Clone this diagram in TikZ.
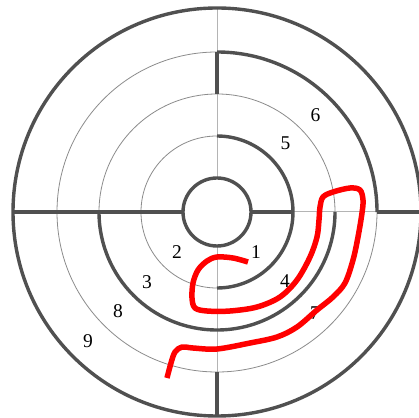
\documentclass[tikz,border=0pt]{standalone}
\usepackage{fontspec}
\setmainfont{Liberation Serif}
\tikzset{
  wall/.style={draw=wallgray, line width=3.4pt},
  thinring/.style={draw=ringgray, line width=0.8pt},
  axisline/.style={draw=axisgray, line width=1pt},
  route/.style={draw=red, line width=5.5pt, line join=round},
  num/.style={font=\fontsize{19.5}{19.5}\selectfont, inner sep=0pt}
}
\definecolor{wallgray}{HTML}{505050}
\definecolor{ringgray}{HTML}{8C8C8C}
\definecolor{axisgray}{HTML}{B4B4B4}
\begin{document}
\begin{tikzpicture}[x=1pt,y=1pt]
\clip (0,0) rectangle (419,417);
\fill[white] (0,0) rectangle (419,417);
\coordinate (c) at (217,205);
% thin axes
\draw[axisline] (217,171) -- (217,1);
\draw[axisline] (217,239) -- (217,409);
\draw[axisline] (251,205) -- (421,205);
\draw[axisline] (183,205) -- (13,205);
% thin rings
\draw[thinring] (c) circle (76);
\draw[thinring] (c) circle (118);
\draw[thinring] (c) circle (160);
% thick walls
\draw[wall] (c) circle (34);
\draw[wall] (c) circle (204);
\draw[wall] (217,281) arc[start angle=90, end angle=-90, radius=76];
\draw[wall] (99,205) arc[start angle=180, end angle=360, radius=118];
\draw[wall] (217,365) arc[start angle=90, end angle=0, radius=160];
\draw[wall] (13,205) -- (183,205);
\draw[wall] (251,205) -- (293,205);
\draw[wall] (377,205) -- (421,205);
\draw[wall] (217,323) -- (217,365);
\draw[wall] (217,45) -- (217,1);
% labels
\node[num] (n1) at (256,164.5) {1};
\node[num] (n2) at (177,164.5) {2};
\node[num] (n3) at (147,135) {3};
\node[num] (n4) at (285,135.5) {4};
\node[num] (n5) at (285.5,273.5) {5};
\node[num] (n6) at (315.5,301.5) {6};
\node[num] (n7) at (315,104) {7};
\node[num] (n8) at (118,105.5) {8};
\node[num] (n9) at (88,75.5) {9};
% route
\draw[route] plot[smooth, tension=0.55] coordinates {
(248,155) (233,159) (217,160) (207,156) (198,147) (193,134) (192,119) (195,109) (207,106) (230,106) (257,110) (280,120) (297,137) (310,160) (317,180) (319,197) (320,210) (323,220) (333,225) (350,229) (360,227) (363,217) (362,204) (358,180) (353,157) (345,134) (333,120) (317,107) (297,90) (277,80) (250,74) (217,68) (193,69) (182,70) (175,65) (171,54) (167,39)};
\end{tikzpicture}
\end{document}
